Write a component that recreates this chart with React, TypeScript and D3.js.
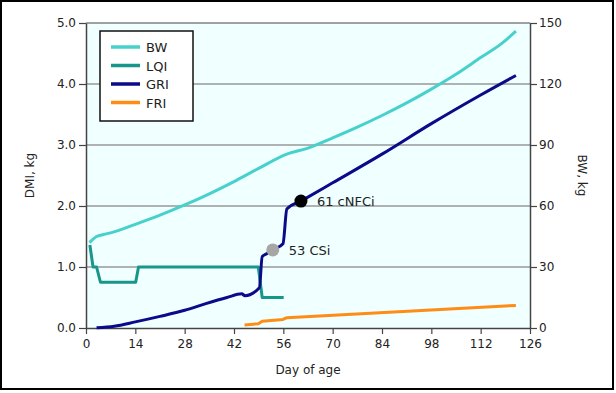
import { useRef, useEffect } from 'react';
import * as d3 from 'd3';

// BW (right axis, kg)
const bwDays = [1, 3, 5, 7, 14, 21, 28, 35, 42, 49, 57, 63, 70, 77, 84, 91, 98, 105, 112, 118, 122];
const bwValues = [42, 45, 46, 46.8, 51, 55.5, 60.5, 66, 72, 78.5, 85.5, 88.5, 93.5, 98.8, 104.5, 110.7, 117.5, 124.8, 133, 140, 146];

// LQI (left axis, DMI kg)
const lqiDays = [1.1, 2, 3, 4.1, 14.1, 14.9, 48.9, 50, 56.1];
const lqiValues = [1.36, 1.0, 1.0, 0.75, 0.75, 1.0, 1.0, 0.5, 0.5];

// GRI
const griDays = [3, 8, 14, 21, 28, 34, 40, 44.2, 45.1, 49.2, 50, 51.4, 53, 55.9, 57, 61, 70, 84, 98, 112, 122];
const griValues = [0.005, 0.03, 0.1, 0.19, 0.29, 0.4, 0.5, 0.56, 0.53, 0.66, 1.17, 1.22, 1.28, 1.38, 1.95, 2.08, 2.38, 2.85, 3.35, 3.82, 4.14];

// FRI
const friDays = [45, 48.9, 50, 55.9, 57, 122];
const friValues = [0.05, 0.07, 0.11, 0.14, 0.17, 0.37];

const markers = [
  { day: 53, value: 1.28, label: '53 CSi', color: '#a6a6a6' },
  { day: 61, value: 2.08, label: '61 cNFCi', color: '#000000' },
];

const xTicks = [0, 14, 28, 42, 56, 70, 84, 98, 112, 126];
const leftTicks = [0, 1, 2, 3, 4, 5];
const rightTicks = [0, 30, 60, 90, 120, 150];

const legendItems = [
  { label: 'BW', color: '#48d1cc' },
  { label: 'LQI', color: '#17968c' },
  { label: 'GRI', color: '#0a0a8a' },
  { label: 'FRI', color: '#ff8c14' },
];

const width = 616;
const height = 393;
const font = 'DejaVu Sans, sans-serif';
const textColor = '#222';

function Chart() {
  const ref = useRef<SVGSVGElement | null>(null);

  useEffect(() => {
    const svg = d3.select(ref.current);
    svg.selectAll('*').remove();

    const margin = { top: 23, right: 86, bottom: 65, left: 86 };
    const innerWidth = width - margin.left - margin.right;
    const innerHeight = height - margin.top - margin.bottom;

    const x = d3.scaleLinear().domain([0, 126]).range([0, innerWidth]);
    const y = d3.scaleLinear().domain([0, 5]).range([innerHeight, 0]);
    const yR = d3.scaleLinear().domain([0, 150]).range([innerHeight, 0]);

    // outer frame
    svg.append('rect')
      .attr('x', 0).attr('y', 0).attr('width', width).attr('height', height)
      .attr('fill', 'white');
    svg.append('rect')
      .attr('x', 1).attr('y', 1).attr('width', 612).attr('height', 388)
      .attr('fill', 'none').attr('stroke', '#000').attr('stroke-width', 2);

    const g = svg.append('g').attr('transform', `translate(${margin.left},${margin.top})`);

    g.append('rect')
      .attr('width', innerWidth).attr('height', innerHeight)
      .attr('fill', '#f0ffff');

    // grid
    g.selectAll('line.grid')
      .data([1, 2, 3, 4])
      .enter()
      .append('line')
      .attr('x1', 0).attr('x2', innerWidth)
      .attr('y1', d => y(d)).attr('y2', d => y(d))
      .attr('stroke', '#999').attr('stroke-width', 1.5);

    g.append('line')
      .attr('x1', 0).attr('x2', innerWidth).attr('y1', 0).attr('y2', 0)
      .attr('stroke', '#444').attr('stroke-width', 1.2);

    // Axes
    const styleAxis = (sel: d3.Selection<SVGGElement, unknown, null, undefined>) => {
      sel.select('.domain').attr('stroke', '#444').attr('stroke-width', 1.5);
      sel.selectAll('.tick line').attr('stroke', '#444').attr('stroke-width', 1.2);
      sel.selectAll('.tick text')
        .attr('fill', textColor)
        .style('font-family', font)
        .style('font-size', '12px');
    };

    g.append('g')
      .attr('transform', `translate(0,${innerHeight})`)
      .call(d3.axisBottom(x).tickValues(xTicks).tickSize(6).tickPadding(5).tickSizeOuter(0))
      .call(styleAxis);

    g.append('g')
      .call(d3.axisLeft(y).tickValues(leftTicks).tickFormat(d3.format('.1f')).tickSize(7).tickPadding(3).tickSizeOuter(0))
      .call(styleAxis);

    g.append('g')
      .attr('transform', `translate(${innerWidth},0)`)
      .call(d3.axisRight(yR).tickValues(rightTicks).tickSize(7).tickPadding(2).tickSizeOuter(0))
      .call(styleAxis);

    // lines
    const draw = (
      days: number[],
      vals: number[],
      scale: d3.ScaleLinear<number, number>,
      color: string,
      curve: d3.CurveFactory,
    ) => {
      const line = d3.line<[number, number]>().x(d => x(d[0])).y(d => d[1]).curve(curve);
      g.append('path')
        .datum(days.map((d, i) => [d, scale(vals[i])] as [number, number]))
        .attr('fill', 'none')
        .attr('stroke', color)
        .attr('stroke-width', 3)
        .attr('stroke-linejoin', 'round')
        .attr('d', line);
    };

    draw(bwDays, bwValues, yR, legendItems[0].color, d3.curveMonotoneX);
    draw(lqiDays, lqiValues, y, legendItems[1].color, d3.curveLinear);
    draw(friDays, friValues, y, legendItems[3].color, d3.curveLinear);
    draw(griDays, griValues, y, legendItems[2].color, d3.curveMonotoneX);

    // markers
    markers.forEach(m => {
      g.append('circle')
        .attr('cx', x(m.day)).attr('cy', y(m.value)).attr('r', 6.5)
        .attr('fill', m.color);
      g.append('text')
        .attr('x', x(m.day) + 16).attr('y', y(m.value) + 5)
        .attr('fill', textColor)
        .style('font-family', font).style('font-size', '13px')
        .text(m.label);
    });

    // legend
    const legend = svg.append('g').attr('transform', 'translate(100,31)');
    legend.append('rect')
      .attr('width', 93).attr('height', 90)
      .attr('fill', 'white').attr('stroke', '#111').attr('stroke-width', 1.5);
    legendItems.forEach((s, i) => {
      const yOff = 16 + i * 18.5;
      legend.append('line')
        .attr('x1', 11).attr('x2', 40).attr('y1', yOff).attr('y2', yOff)
        .attr('stroke', s.color).attr('stroke-width', 3.5);
      legend.append('text')
        .attr('x', 46).attr('y', yOff + 5)
        .attr('fill', textColor)
        .style('font-family', font).style('font-size', '13px')
        .text(s.label);
    });

    // axis titles
    svg.append('text')
      .attr('transform', `translate(34,${margin.top + innerHeight / 2}) rotate(-90)`)
      .attr('text-anchor', 'middle')
      .attr('fill', textColor)
      .style('font-family', font).style('font-size', '12px')
      .text('DMI, kg');

    svg.append('text')
      .attr('transform', `translate(578,${margin.top + innerHeight / 2}) rotate(90)`)
      .attr('text-anchor', 'middle')
      .attr('fill', textColor)
      .style('font-family', font).style('font-size', '12px')
      .text('BW, kg');

    svg.append('text')
      .attr('x', margin.left + innerWidth / 2).attr('y', 374)
      .attr('text-anchor', 'middle')
      .attr('fill', textColor)
      .style('font-family', font).style('font-size', '12px')
      .text('Day of age');
  }, []);

  return <svg ref={ref} width={width} height={height} style={{ position: 'absolute', left: 0, top: 0 }}></svg>;
}

export default function App() {
  return <Chart />;
}
